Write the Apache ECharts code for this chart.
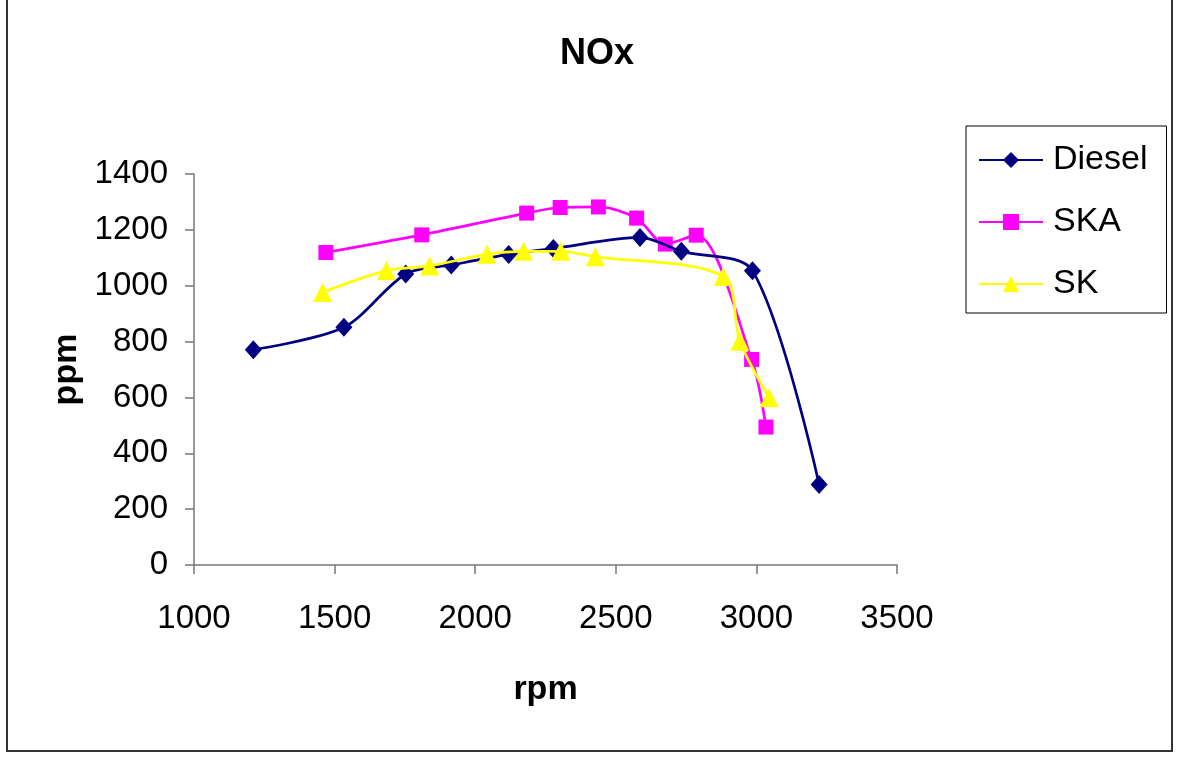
<!DOCTYPE html>
<html>
<head>
<meta charset="utf-8">
<script src="https://cdn.jsdelivr.net/npm/echarts@6/dist/echarts.min.js"></script>
<style>
html,body{margin:0;padding:0;background:#fff;}
#chart{width:1179px;height:758px;}
</style>
</head>
<body>
<div id="chart"></div>
<script>
// Data
var seriesNames = ['Diesel', 'SKA', 'SK'];
var dieselRpm = [1211, 1533, 1753, 1915, 2119, 2278, 2586, 2733, 2986, 3223];
var dieselPpm = [771, 851, 1042, 1074, 1112, 1133, 1173, 1123, 1054, 288];
var skaRpm = [1469, 1810, 2183, 2302, 2438, 2574, 2676, 2786, 2983, 3034];
var skaPpm = [1119, 1182, 1260, 1280, 1282, 1242, 1149, 1181, 736, 494];
var skRpm = [1457, 1684, 1838, 2042, 2172, 2304, 2427, 2882, 2941, 3045];
var skPpm = [976, 1054, 1071, 1113, 1123, 1123, 1104, 1033, 801, 599];

function pairs(xs, ys) { return xs.map(function (x, i) { return [x, ys[i]]; }); }

var sans = '"Liberation Sans", Arial, sans-serif';

var chart = echarts.init(document.getElementById('chart'), null, {renderer: 'canvas'});
var option = {
  backgroundColor: '#ffffff',
  animation: false,
  title: {
    text: 'NOx',
    left: 592,
    top: 31,
    textAlign: 'center',
    textStyle: {fontFamily: sans, fontSize: 36, fontWeight: 'bold', color: '#000'}
  },
  legend: {
    orient: 'vertical',
    left: 966,
    top: 126,
    padding: [14, 19, 9, 12],
    borderColor: '#000',
    borderWidth: 1,
    itemWidth: 64,
    itemHeight: 20,
    itemGap: 22,
    data: seriesNames,
    textStyle: {fontFamily: sans, fontSize: 34, lineHeight: 40, color: '#000', padding: [0, 0, 0, 5]}
  },
  grid: {left: 194, right: 282, top: 174, bottom: 193, containLabel: false},
  xAxis: {
    type: 'value',
    min: 1000, max: 3500, interval: 500,
    name: 'rpm',
    nameLocation: 'middle',
    nameGap: 108,
    nameTextStyle: {fontFamily: sans, fontSize: 34, fontWeight: 'bold', color: '#000'},
    axisLine: {show: true, lineStyle: {color: '#777', width: 1.5}},
    axisTick: {show: true, length: 9, lineStyle: {color: '#777', width: 1.5}},
    axisLabel: {fontFamily: sans, fontSize: 33, color: '#000', margin: 37,
      formatter: function (v) { return String(v); }},
    splitLine: {show: false}
  },
  yAxis: {
    type: 'value',
    min: 0, max: 1400, interval: 200,
    name: 'ppm',
    nameLocation: 'middle',
    nameGap: 106,
    nameTextStyle: {fontFamily: sans, fontSize: 34, fontWeight: 'bold', color: '#000'},
    axisLine: {show: true, lineStyle: {color: '#777', width: 1.5}},
    axisTick: {show: true, length: 9, lineStyle: {color: '#777', width: 1.5}},
    axisLabel: {fontFamily: sans, fontSize: 33, color: '#000', margin: 26,
      formatter: function (v) { return String(v); }},
    splitLine: {show: false}
  },
  series: [
    {
      name: 'Diesel', type: 'line', smooth: 0.3,
      data: pairs(dieselRpm, dieselPpm),
      symbol: 'diamond', symbolSize: [17, 19],
      itemStyle: {color: '#000080'},
      lineStyle: {color: '#000080', width: 2.7},
      z: 3
    },
    {
      name: 'SKA', type: 'line', smooth: 0.3,
      data: pairs(skaRpm, skaPpm),
      symbol: 'rect', symbolSize: 15,
      itemStyle: {color: '#ff00ff'},
      lineStyle: {color: '#ff00ff', width: 2.7},
      z: 2
    },
    {
      name: 'SK', type: 'line', smooth: 0.3,
      data: pairs(skRpm, skPpm),
      symbol: 'triangle', symbolSize: [19, 19],
      itemStyle: {color: '#ffff00'},
      lineStyle: {color: '#ffff00', width: 2.7},
      z: 4
    }
  ],
  graphic: [
    {
      type: 'rect',
      shape: {x: 7, y: -5, width: 1165, height: 756},
      style: {fill: null, stroke: '#333', lineWidth: 2},
      silent: true, z: -1
    }
  ]
};
chart.setOption(option);
</script>
</body>
</html>
